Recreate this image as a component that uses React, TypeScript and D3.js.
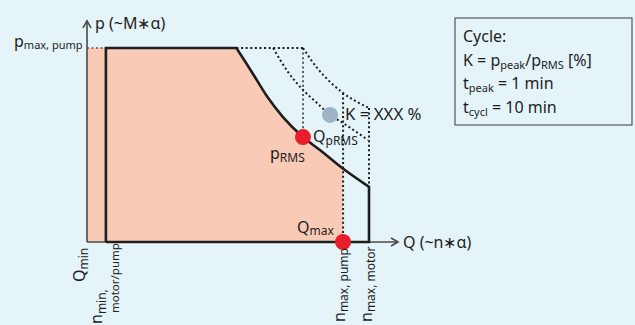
import React from 'react';
import * as d3 from 'd3';

// operating limits, Q in % of n_max,motor and p in % of p_max,pump
const limitCurve: [number, number][] = [[53, 100], [58, 88.7], [64, 74.7], [69.5, 64.4], [76.6, 54.1], [82.6, 47.4], [90.5, 38.1], [100, 28.4]];
const kCurve: [number, number][] = [[66, 100], [71.3, 87.6], [76.6, 78.4], [81.6, 71.6], [86.2, 65.5], [90.8, 61.3], [99.6, 52.6]];
const outerCurve: [number, number][] = [[76.6, 100], [81.6, 89.7], [86.2, 82.5], [90.8, 76.8], [100, 69.1]];

const qMin = 0;
const nMin = 6.7;
const nMaxPump = 90.8;
const nMaxMotor = 100;
const pMax = 100;
const pRms = 54.1;
const qRms = 76.6;
const kPoint: [number, number] = [86.2, 65.5];

const legendLines = ['Cycle:', 'K', 'tpeak', 'tcycl'];

const W = 635;
const H = 325;
const BG = '#e4f4f8';
const FILL = '#f9cab5';
const RED = '#e81e2a';
const DOT_BLUE = '#9db4c7';
const INK = '#1e1e1e';
const FONT = '"Noto Sans", sans-serif';

const App = () => {
    const xScale = d3.scaleLinear().domain([0, 100]).range([87, 369]);
    const yScale = d3.scaleLinear().domain([0, 100]).range([242, 48]);

    const line = d3.line<[number, number]>()
        .x(d => xScale(d[0]))
        .y(d => yScale(d[1]))
        .curve(d3.curveMonotoneX);

    const straight = d3.line<[number, number]>()
        .x(d => xScale(d[0]))
        .y(d => yScale(d[1]));

    const curvePath = line(limitCurve) || '';
    const fillPath = straight([[qMin, 0], [qMin, pMax]]) + 'L' + curvePath.slice(1) + 'L' + xScale(nMaxMotor) + ',' + yScale(0) + 'Z';
    const boundary = straight([[nMin, 0], [nMin, pMax], limitCurve[0]]) + 'L' + curvePath.slice(1)
        + 'L' + xScale(nMaxMotor) + ',' + yScale(0) + 'L' + xScale(nMin) + ',' + yScale(0);

    const kAt = (c: [number, number][], q: number) => c.find(d => d[0] === q)![1];
    const dotted = { stroke: INK, strokeWidth: 2, strokeDasharray: '2 2.6', fill: 'none' };

    const x0 = xScale(0), y0 = yScale(0);
    const axisTop = yScale(114);
    const axisRight = xScale(110.3);

    return (
        <svg width={W} height={H} style={{ position: 'absolute', left: 0, top: 0, fontFamily: FONT }}>
            <rect width={W} height={H} fill={BG} />
            <defs>
                <clipPath id="fillClip">
                    <rect x={0} y={0} width={xScale(nMaxPump)} height={H} />
                </clipPath>
            </defs>

            <path d={fillPath} fill={FILL} clipPath="url(#fillClip)" />

            {/* dotted helper lines */}
            <path d={straight([[qMin, pMax], [nMin, pMax]]) || ''} stroke="#7a4a3a" strokeWidth={1.6} strokeDasharray="2 2.5" fill="none" />
            <path d={straight([limitCurve[0], [qRms, pMax]]) || ''} {...dotted} />
            <path d={line(kCurve) || ''} {...dotted} />
            <path d={line(outerCurve) || ''} {...dotted} />
            <path d={straight([[qRms, pMax], [qRms, pRms]]) || ''} {...dotted} strokeWidth={1.4} />
            <path d={straight([[nMaxPump, kAt(outerCurve, nMaxPump)], [nMaxPump, 0]]) || ''} {...dotted} />
            <path d={straight([[nMaxMotor, kAt(outerCurve, nMaxMotor)], [nMaxMotor, limitCurve[limitCurve.length - 1][1]]]) || ''} {...dotted} />

            {/* axes */}
            <g stroke="#4a4a4a" strokeWidth={1.6} fill="none">
                <line x1={x0} y1={y0} x2={x0} y2={axisTop} />
                <polyline points={`${x0 - 4},${axisTop + 7} ${x0},${axisTop} ${x0 + 4},${axisTop + 7}`} />
                <line x1={x0} y1={y0} x2={axisRight} y2={y0} />
                <polyline points={`${axisRight - 7},${y0 - 4} ${axisRight},${y0} ${axisRight - 7},${y0 + 4}`} />
            </g>

            <path d={boundary} stroke={INK} strokeWidth={2.6} fill="none" strokeLinejoin="miter" />

            {/* points */}
            <circle cx={xScale(qRms)} cy={yScale(pRms)} r={8} fill={RED} />
            <circle cx={xScale(kPoint[0])} cy={yScale(kPoint[1])} r={8} fill={DOT_BLUE} />
            <circle cx={xScale(nMaxPump)} cy={yScale(0)} r={8} fill={RED} />

            <g fill={INK} fontSize={16}>
                <text x={95} y={29}>p (~M∗α)</text>
                <text x={403} y={y0 + 6}>Q (~n∗α)</text>
                <text x={14} y={47}>p<tspan fontSize={11} dy={2}>max, pump</tspan></text>
                <text x={xScale(nMaxPump) - 46} y={233}>Q<tspan fontSize={12} dy={2}>max</tspan></text>
                <text x={313} y={142}>Q<tspan fontSize={12} dy={3}>pRMS</tspan></text>
                <text x={270} y={159}>p<tspan fontSize={12} dy={3}>RMS</tspan></text>
                <text x={345} y={120} fontSize={16.8}>K = XXX %</text>

                <text transform={`translate(85,282) rotate(-90)`}>Q<tspan fontSize={12} dy={3}>min</tspan></text>
                <text transform={`translate(102,324) rotate(-90)`}>n<tspan fontSize={12} dy={4}>min,</tspan></text>
                <text transform={`translate(119,313) rotate(-90)`} fontSize={11.5}>motor/pump</text>
                <text transform={`translate(${xScale(nMaxPump) + 2},322) rotate(-90)`}>n<tspan fontSize={12} dy={3}>max, pump</tspan></text>
                <text transform={`translate(${xScale(nMaxMotor) + 3},322) rotate(-90)`}>n<tspan fontSize={12} dy={3}>max, motor</tspan></text>
            </g>

            {/* legend */}
            <rect x={455} y={18} width={177} height={107} fill={BG} stroke="#555" strokeWidth={1.2} />
            <g fill={INK} fontSize={16}>
                {legendLines.map((l, i) => {
                    const y = 42 + i * 23.7;
                    if (l === 'K') return (
                        <text key={l} x={463} y={y}>K = p<tspan fontSize={11} dy={3}>peak</tspan><tspan dy={-3}>/p</tspan><tspan fontSize={11} dy={3}>RMS</tspan><tspan dy={-3}> [%]</tspan></text>
                    );
                    if (l === 'tpeak') return (
                        <text key={l} x={463} y={y}>t<tspan fontSize={11} dy={3}>peak</tspan><tspan dy={-3}> = 1 min</tspan></text>
                    );
                    if (l === 'tcycl') return (
                        <text key={l} x={463} y={y}>t<tspan fontSize={11} dy={3}>cycl</tspan><tspan dy={-3}> = 10 min</tspan></text>
                    );
                    return <text key={l} x={463} y={y}>{l}</text>;
                })}
            </g>
        </svg>
    );
};

export default App;
